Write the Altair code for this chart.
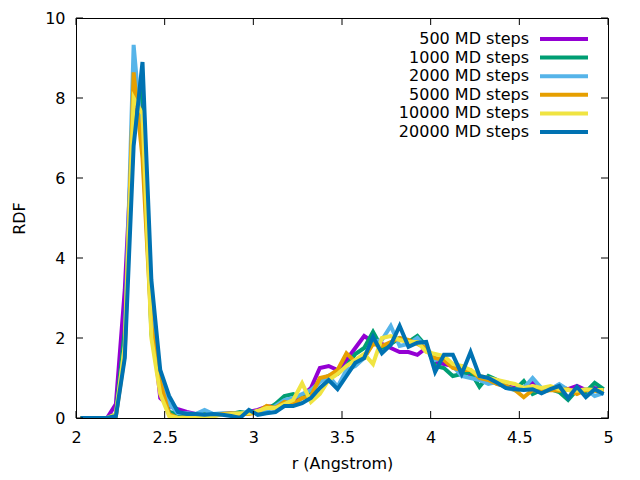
import altair as alt
import pandas as pd

R = [2.025, 2.075, 2.125, 2.175, 2.225, 2.275, 2.325, 2.375, 2.425, 2.475,
     2.525, 2.575, 2.625, 2.675, 2.725, 2.775, 2.825, 2.875, 2.925, 2.975,
     3.025, 3.075, 3.125, 3.175, 3.225, 3.275, 3.325, 3.375, 3.425, 3.475,
     3.525, 3.575, 3.625, 3.675, 3.725, 3.775, 3.825, 3.875, 3.925, 3.975,
     4.025, 4.075, 4.125, 4.175, 4.225, 4.275, 4.325, 4.375, 4.425, 4.475,
     4.525, 4.575, 4.625, 4.675, 4.725, 4.775, 4.825, 4.875, 4.925, 4.975]

S500 = [0, 0, 0, 0, 0.35, 3.2, 7.6, 7.9, 2.6, 0.5,
        0.3, 0.22, 0.15, 0.1, 0.12, 0.1, 0.1, 0.12, 0.08, 0.15,
        0.2, 0.28, 0.3, 0.4, 0.45, 0.55, 0.75, 1.25, 1.3, 1.2,
        1.45, 1.75, 2.05, 1.9, 1.85, 1.75, 1.65, 1.65, 1.58, 1.75,
        1.4, 1.35, 1.3, 1.3, 1.05, 1.0, 1.0, 0.85, 0.8, 0.75,
        0.75, 0.92, 0.7, 0.72, 0.78, 0.72, 0.8, 0.7, 0.75, 0.7]

S1000 = [0, 0, 0, 0, 0.1, 2.2, 7.2, 8.3, 2.1, 0.8,
         0.15, 0.1, 0.05, 0.1, 0.12, 0.08, 0.1, 0.1, 0.15, 0.12,
         0.15, 0.2, 0.35, 0.55, 0.6, 0.5, 0.65, 0.95, 1.05, 1.1,
         1.3, 1.6, 1.75, 2.15, 1.75, 1.85, 2.0, 1.9, 2.05, 1.8,
         1.3, 1.25, 1.05, 1.1, 1.15, 0.78, 1.05, 0.95, 0.8, 0.7,
         0.92, 0.6, 0.7, 0.72, 0.65, 0.45, 0.7, 0.65, 0.88, 0.72]

S2000 = [0, 0, 0, 0, 0.05, 1.8, 9.33, 6.8, 2.5, 1.0,
         0.35, 0.12, 0.12, 0.1, 0.2, 0.1, 0.12, 0.12, 0.1, 0.15,
         0.15, 0.2, 0.3, 0.45, 0.5, 0.6, 0.7, 0.9, 1.05, 0.78,
         1.2, 1.3, 1.5, 1.9, 1.95, 2.3, 1.8, 1.85, 2.0, 1.75,
         1.45, 1.5, 1.3, 1.05, 1.0, 0.95, 0.85, 0.9, 0.75, 0.7,
         0.75, 1.0, 0.75, 0.72, 0.85, 0.7, 0.65, 0.72, 0.55, 0.62]

S5000 = [0, 0, 0, 0, 0.05, 1.6, 8.64, 6.5, 2.3, 0.9,
         0.1, 0.0, 0.02, 0.05, 0.08, 0.05, 0.1, 0.12, 0.1, 0.1,
         0.15, 0.3, 0.25, 0.4, 0.35, 0.5, 0.55, 1.0, 1.05, 1.2,
         1.62, 1.4, 1.5, 1.85, 1.8, 1.9, 2.0, 1.95, 1.85, 1.75,
         1.5, 1.45, 1.25, 1.2, 1.2, 1.0, 0.95, 0.85, 0.8, 0.7,
         0.52, 0.7, 0.65, 0.7, 0.68, 0.72, 0.6, 0.7, 0.68, 0.65]

S10000 = [0, 0, 0, 0, 0.1, 1.8, 8.0, 7.6, 2.0, 0.6,
          0.05, 0.0, 0.0, 0.05, 0.0, 0.05, 0.08, 0.1, 0.12, 0.12,
          0.18, 0.25, 0.25, 0.35, 0.45, 0.87, 0.4, 0.6, 0.95, 1.1,
          1.3, 1.45, 1.6, 1.35, 2.0, 2.05, 1.95, 1.9, 1.9, 1.65,
          1.6, 1.55, 1.35, 1.3, 1.2, 1.05, 1.0, 0.95, 0.9, 0.85,
          0.75, 0.8, 0.75, 0.8, 0.72, 0.7, 0.68, 0.72, 0.7, 0.7]

S20000 = [0, 0, 0, 0, 0.05, 1.5, 6.8, 8.9, 3.45, 1.2,
          0.55, 0.15, 0.1, 0.1, 0.08, 0.1, 0.08, 0.05, 0.0, 0.2,
          0.08, 0.12, 0.15, 0.3, 0.3, 0.37, 0.5, 0.75, 0.95, 0.72,
          1.05, 1.38, 1.5, 2.03, 1.62, 1.83, 2.3, 1.78, 1.88, 1.9,
          1.15, 1.58, 1.58, 1.1, 1.65, 1.05, 1.0, 0.88, 0.75, 0.72,
          0.7, 0.72, 0.62, 0.72, 0.8, 0.5, 0.78, 0.52, 0.72, 0.6]

NAMES = ["500 MD steps", "1000 MD steps", "2000 MD steps",
         "5000 MD steps", "10000 MD steps", "20000 MD steps"]
COLORS = ["#9400D3", "#009E73", "#56B4E9", "#E69F00", "#F0E442", "#0072B2"]
SERIES = [S500, S1000, S2000, S5000, S10000, S20000]

X_TICKS = [2, 2.5, 3, 3.5, 4, 4.5, 5]
Y_TICKS = [0, 2, 4, 6, 8, 10]

W, H = 532, 400
FONT = "DejaVu Sans"
FS = 16

rows = []
for name, vals in zip(NAMES, SERIES):
    for r, v in zip(R, vals):
        rows.append({"series": name, "r": r, "g": v})
df = pd.DataFrame(rows)

xs = alt.Scale(domain=[2, 5], nice=False, zero=False)
ys = alt.Scale(domain=[0, 10], nice=False, zero=False)

x_axis = alt.Axis(values=X_TICKS, title="r (Angstrom)", ticks=False, domain=False,
                  grid=False, labelPadding=11, labelFontSize=FS, titleFontSize=FS,
                  labelFont=FONT, titleFont=FONT, titleFontWeight="normal",
                  labelColor="black", titleColor="black", titleY=50,
                  titleBaseline="alphabetic", labelFlush=False, labelOverlap=False,
                  labelExpr="datum.value == 2.5 || datum.value == 3.5 || datum.value == 4.5 ? format(datum.value, '.1f') : format(datum.value, 'd')")
y_axis = alt.Axis(values=Y_TICKS, title="RDF", ticks=False, domain=False,
                  grid=False, labelPadding=11, labelFontSize=FS, titleFontSize=FS,
                  labelFont=FONT, titleFont=FONT, titleFontWeight="normal",
                  labelColor="black", titleColor="black", titleX=-57, titleY=200,
                  titleAngle=270, titleAlign="center", titleBaseline="middle",
                  labelFlush=False, labelOverlap=False)

layers = []
base_axes = alt.Chart(df).mark_line(opacity=0).encode(
    x=alt.X("r:Q", scale=xs, axis=x_axis),
    y=alt.Y("g:Q", scale=ys, axis=y_axis),
)
layers.append(base_axes)

for name, col in zip(NAMES, COLORS):
    layers.append(
        alt.Chart(df).transform_filter(alt.datum.series == name)
        .mark_line(color=col, strokeWidth=4, clip=True)
        .encode(x=alt.X("r:Q", scale=xs), y=alt.Y("g:Q", scale=ys))
    )

xt = pd.DataFrame({"t": X_TICKS})
yt = pd.DataFrame({"t": Y_TICKS})
TL = 7
layers.append(alt.Chart(xt).mark_rule(color="black", strokeWidth=1).encode(
    x=alt.X("t:Q", scale=xs), y=alt.value(H), y2=alt.value(H - TL)))
layers.append(alt.Chart(xt).mark_rule(color="black", strokeWidth=1).encode(
    x=alt.X("t:Q", scale=xs), y=alt.value(0), y2=alt.value(TL)))
layers.append(alt.Chart(yt).mark_rule(color="black", strokeWidth=1).encode(
    y=alt.Y("t:Q", scale=ys), x=alt.value(0), x2=alt.value(TL)))
layers.append(alt.Chart(yt).mark_rule(color="black", strokeWidth=1).encode(
    y=alt.Y("t:Q", scale=ys), x=alt.value(W), x2=alt.value(W - TL)))

# legend (gnuplot style: label left of sample, top right inside the plot)
leg_df = pd.DataFrame({"series": NAMES})
ROW0, ROWH = 21, 18.6
for i, (name, col) in enumerate(zip(NAMES, COLORS)):
    yy = ROW0 + i * ROWH
    sub = alt.Chart(leg_df).transform_filter(alt.datum.series == name)
    layers.append(sub.mark_text(align="right", baseline="middle", font=FONT,
                                fontSize=FS, color="black").encode(
        text="series:N", x=alt.value(453), y=alt.value(yy)))
    layers.append(sub.mark_rule(color=col, strokeWidth=4).encode(
        x=alt.value(464), x2=alt.value(512), y=alt.value(yy)))

chart = alt.layer(*layers).properties(
    width=W, height=H,
    autosize=alt.AutoSizeParams(type="none"),
    padding={"left": 68, "top": 10, "right": 24, "bottom": 54},
    background="white",
).configure_view(stroke="black", strokeWidth=1)

chart.save("out.html", embed_options={"renderer": "svg", "actions": False})
